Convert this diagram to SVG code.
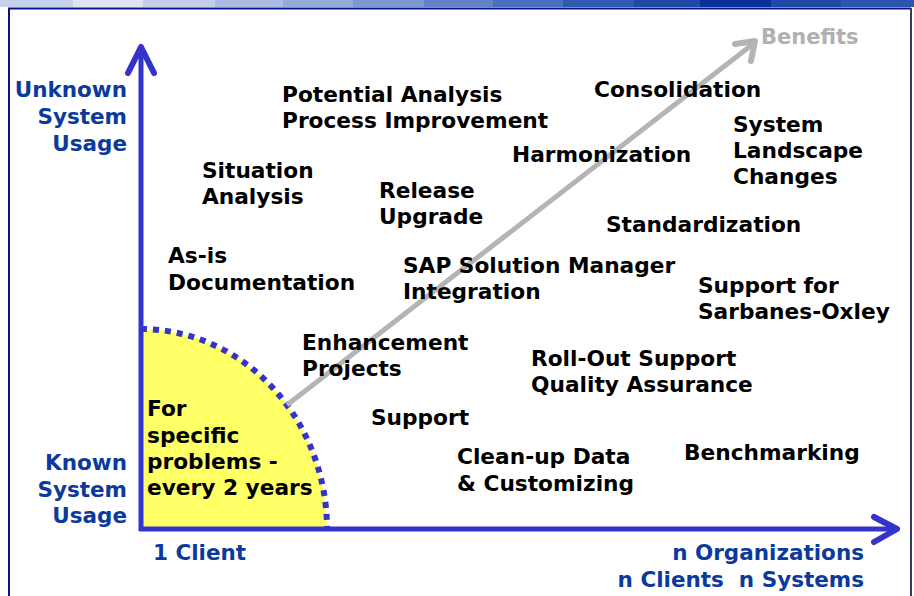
<svg xmlns="http://www.w3.org/2000/svg" width="914" height="596" viewBox="0 0 914 596">
<style>
.lbl{font-family:"DejaVu Sans","Verdana",sans-serif;font-weight:bold;font-size:21.7px;fill:#000}
.ax{font-family:"DejaVu Sans","Verdana",sans-serif;font-weight:bold;font-size:21.5px;fill:#0b3a9c}
.axr{text-anchor:end}
.ben{font-family:"DejaVu Sans","Verdana",sans-serif;font-weight:bold;font-size:21px;fill:#b0b0b0}
.axis{stroke:#3434cc;stroke-width:5;fill:none}
.head{stroke:#3434cc;stroke-width:6;fill:none;stroke-linecap:round;stroke-linejoin:round}
</style>
<rect x="0" y="0" width="914" height="596" fill="#ffffff"/>
<g id="frame">
<rect x="0" y="0" width="73" height="7" fill="#c5d2ec"/>
<rect x="73" y="0" width="70" height="7" fill="#dfe5f3"/>
<rect x="143" y="0" width="72" height="7" fill="#c3cfe9"/>
<rect x="215" y="0" width="68" height="7" fill="#a9bce1"/>
<rect x="283" y="0" width="70" height="7" fill="#94acd9"/>
<rect x="353" y="0" width="71" height="7" fill="#7d98d0"/>
<rect x="424" y="0" width="69" height="7" fill="#6283c7"/>
<rect x="493" y="0" width="70" height="7" fill="#4a6fbe"/>
<rect x="563" y="0" width="71" height="7" fill="#3059b0"/>
<rect x="634" y="0" width="66" height="7" fill="#2048a7"/>
<rect x="700" y="0" width="71" height="7" fill="#0a2f98"/>
<rect x="771" y="0" width="70" height="7" fill="#1f47a6"/>
<rect x="841" y="0" width="73" height="7" fill="#2c55ae"/>
<line x1="8" y1="8.5" x2="911" y2="8.5" stroke="#10108a" stroke-width="2"/>
<line x1="9" y1="8" x2="9" y2="596" stroke="#10108a" stroke-width="2"/>
<line x1="911" y1="8" x2="911" y2="596" stroke="#3a3a5a" stroke-width="2"/>
</g>
<g id="zone">
<path d="M141,529 L141,329 A186,200 0 0 1 327,529 Z" fill="#ffff66"/>
<path d="M141,329 A186,200 0 0 1 327,529" fill="none" stroke="#3434cc" stroke-width="6" stroke-dasharray="6 6"/>
</g>
<g id="connectors">
<line id="benefits-arrow" x1="287" y1="405" x2="753" y2="44" stroke="#b4b4b4" stroke-width="5"/>
<polyline points="735,44 755,41 751,61" fill="none" stroke="#b4b4b4" stroke-width="6" stroke-linejoin="round" stroke-linecap="round"/>
<line id="y-axis" class="axis" x1="141" y1="531" x2="141" y2="48"/>
<polyline class="head" points="128,73 141,47 154,73"/>
<line id="x-axis" class="axis" x1="139" y1="529" x2="896" y2="529"/>
<polyline class="head" points="874,517 897,529 874,542"/>
</g>
<g id="axis-labels">
<text class="ax axr" x="127"><tspan x="127" y="97">Unknown</tspan><tspan x="127" y="124">System</tspan><tspan x="127" y="151">Usage</tspan></text>
<text class="ax axr" x="127"><tspan x="127" y="470">Known</tspan><tspan x="127" y="497">System</tspan><tspan x="127" y="523">Usage</tspan></text>
<text class="ax" x="153" y="560">1 Client</text>
<text class="ax axr" x="864" y="560">n Organizations</text>
<text class="ax axr" x="864" y="587" xml:space="preserve">n Clients  n Systems</text>
<text class="ben" x="761" y="44">Benefits</text>
</g>
<g id="n-specific"><text class="lbl"><tspan x="147" y="416">For</tspan><tspan x="147" y="443">specific</tspan><tspan x="147" y="469">problems -</tspan><tspan x="147" y="495">every 2 years</tspan></text></g>
<g id="n-potential"><text class="lbl"><tspan x="282" y="102">Potential Analysis</tspan><tspan x="282" y="128">Process Improvement</tspan></text></g>
<g id="n-consolidation"><text class="lbl" x="594" y="97">Consolidation</text></g>
<g id="n-landscape"><text class="lbl"><tspan x="733" y="132">System</tspan><tspan x="733" y="158">Landscape</tspan><tspan x="733" y="184">Changes</tspan></text></g>
<g id="n-harmonization"><text class="lbl" x="512" y="162">Harmonization</text></g>
<g id="n-standardization"><text class="lbl" x="606" y="232">Standardization</text></g>
<g id="n-situation"><text class="lbl"><tspan x="202" y="178">Situation</tspan><tspan x="202" y="204">Analysis</tspan></text></g>
<g id="n-release"><text class="lbl"><tspan x="379" y="198">Release</tspan><tspan x="379" y="224">Upgrade</tspan></text></g>
<g id="n-asis"><text class="lbl"><tspan x="168" y="263">As-is</tspan><tspan x="168" y="290">Documentation</tspan></text></g>
<g id="n-solman"><text class="lbl"><tspan x="403" y="273">SAP Solution Manager</tspan><tspan x="403" y="299">Integration</tspan></text></g>
<g id="n-sox"><text class="lbl"><tspan x="698" y="293">Support for</tspan><tspan x="698" y="319">Sarbanes-Oxley</tspan></text></g>
<g id="n-enhancement"><text class="lbl"><tspan x="302" y="350">Enhancement</tspan><tspan x="302" y="376">Projects</tspan></text></g>
<g id="n-rollout"><text class="lbl"><tspan x="531" y="366">Roll-Out Support</tspan><tspan x="531" y="392">Quality Assurance</tspan></text></g>
<g id="n-support"><text class="lbl" x="371" y="425">Support</text></g>
<g id="n-cleanup"><text class="lbl"><tspan x="457" y="464">Clean-up Data</tspan><tspan x="457" y="491">&amp; Customizing</tspan></text></g>
<g id="n-benchmarking"><text class="lbl" x="684" y="460">Benchmarking</text></g>
</svg>
